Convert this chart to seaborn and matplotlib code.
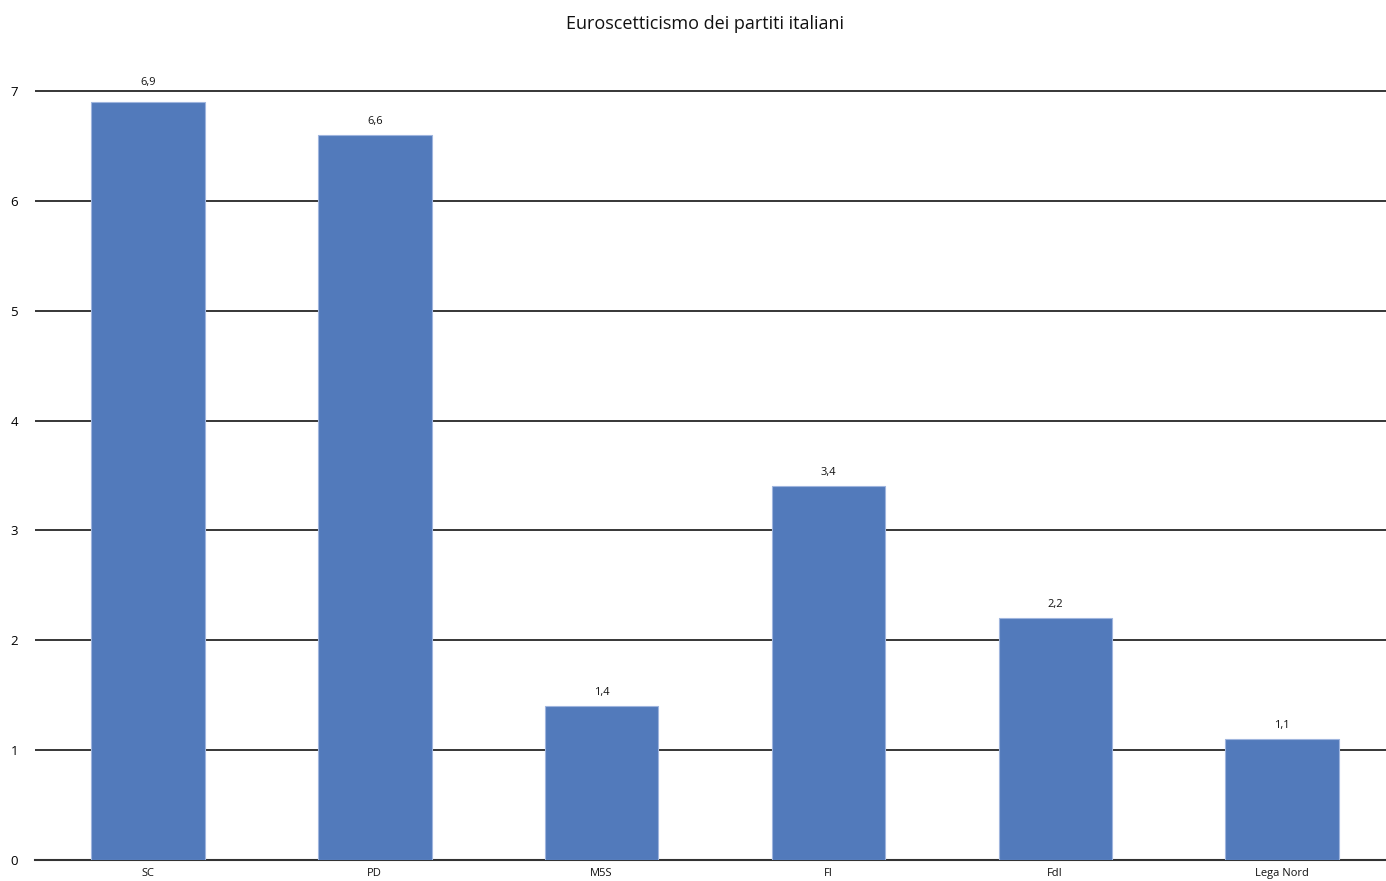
import matplotlib
matplotlib.use("Agg")
import matplotlib.pyplot as plt
import seaborn as sns
import pandas as pd

categories = ["SC", "PD", "M5S", "FI", "FdI", "Lega Nord"]
values = [6.9, 6.6, 1.4, 3.4, 2.2, 1.1]
yticks = [0, 1, 2, 3, 4, 5, 6, 7]
title = "Euroscetticismo dei partiti italiani"

sns.set_theme(style="white")
plt.rcParams['font.family'] = ['Open Sans', 'DejaVu Sans']

df = pd.DataFrame({"partito": categories, "valore": values})

unit = 769 / 7.0
ymax = 7.3
fig = plt.figure(figsize=(13.86, 8.81), dpi=100)
ax = fig.add_axes([34.6 / 1386, 21 / 881, 1360.8 / 1386, unit * ymax / 881])

sns.barplot(data=df, x="partito", y="valore", color="#527abb", width=0.5,
            saturation=1, edgecolor="#9fb5de", linewidth=0.8, ax=ax, zorder=3)

ax.set_xlim(-0.5, 5.5)
ax.set_ylim(0, ymax)
ax.set_yticks(yticks)
ax.set_yticklabels([str(t) for t in yticks], fontsize=9.5, color="#000000")
ax.yaxis.grid(True, color="#000000", linewidth=1.1, zorder=0)
ax.set_axisbelow(True)
for s in ["top", "right", "left"]:
    ax.spines[s].set_visible(False)
ax.spines["bottom"].set_color("#333333")
ax.spines["bottom"].set_linewidth(1.5)
ax.tick_params(axis="y", length=0, pad=12)
ax.tick_params(axis="x", length=0, pad=6, labelsize=8, labelcolor="#111111")
ax.set_xlabel("")
ax.set_ylabel("")

for i, v in enumerate(values):
    # push label above a gridline if it would sit on it
    off = 10 if (round(v) - v) < 0.15 and round(v) > v else 6
    ax.annotate(f"{v:.1f}".replace(".", ","), (i, v), xytext=(0, off),
                textcoords="offset points", ha="center", va="bottom",
                fontsize=8, color="#111111", clip_on=False)

fig.text(705 / 1386, 1 - 24 / 881, title, ha="center", va="center",
         fontsize=13, color="#111111")

fig.savefig("out.png", dpi=100)
